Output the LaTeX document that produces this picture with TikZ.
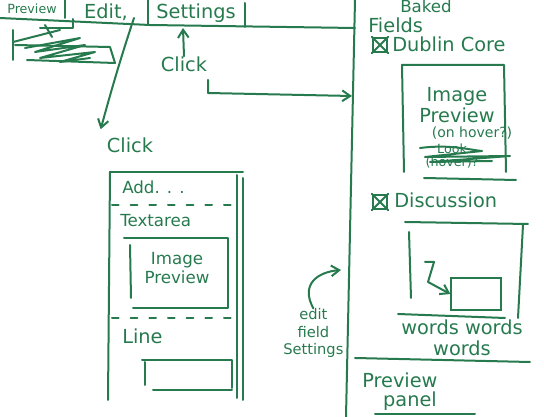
\documentclass[tikz,border=0pt]{standalone}
\usepackage{fontspec}
\setmainfont{DejaVu Sans}
\usetikzlibrary{arrows.meta}
\definecolor{pen}{RGB}{38,122,78}
\begin{document}
\begin{tikzpicture}[x=0.75pt,y=-0.75pt,
  ink/.style={draw=pen,line width=1.5pt,line cap=round,line join=round},
  arr/.style={ink,-{Straight Barb[length=6pt,width=8pt]}},
  lbl/.style={text=pen,font=\fontsize{14.5}{16}\selectfont,inner sep=0pt,align=center},
  mid/.style={text=pen,font=\fontsize{12.5}{14}\selectfont,inner sep=0pt,align=center},
  small/.style={text=pen,font=\fontsize{9.5}{10}\selectfont,inner sep=0pt,align=center},
  dashline/.style={ink,dash pattern=on 5pt off 9pt}]
\useasboundingbox (0,0) rectangle (544,417);
% tab bar
\draw[ink] (0,18) -- (150,25) -- (355,28);
\draw[ink] (65,0) -- (65,18);
\draw[ink] (148,0) -- (148,25);
\draw[ink] (245,3) -- (245,27);
\node[small] (tprev) at (32,9) {Preview};
\node[lbl] (tedit) at (106,12) {Edit,};
\node[lbl] (tset) at (196,13) {Settings};
% scribble
\draw[ink] (13,30) -- (13,60);
\draw[ink] (73,19) -- (73,28) -- (40,28);
\draw[ink] (13,42) -- (60,30);
\draw[ink] (45,25) -- (52,37);
\draw[ink] (15,45) -- (110,47) -- (115,63);
\draw[ink] (27,60) -- (115,63);
\draw[ink] (25,48) -- (80,38) -- (35,52) -- (85,45) -- (40,58) -- (95,52) -- (60,62) -- (90,58);
% vertical divider
\coordinate (vtop) at (355,0);
\coordinate (vbot) at (346,417);
\draw[ink] (vtop) -- (vbot);
% Edit click arrow
\coordinate (e0) at (134,18);
\node[lbl] (click1) at (130,145) {Click};
\draw[arr] (e0) .. controls (120,60) and (110,95) .. ([xshift=-22pt,yshift=6pt]click1.north);
% Settings click arrow
\node[lbl] (click2) at (184,64) {Click};
\draw[arr] (click2.north) -- (183,28);
\coordinate (c2a) at (208,80);
\coordinate (c2b) at (352,96);
\draw[arr] (c2a) -- (208,93) -- (c2b);
% left panel
\draw[ink] (110,172) -- (243,172);
\draw[ink] (110,172) -- (108,400);
\draw[ink] (237,175) -- (237,398);
\draw[ink] (243,178) -- (243,400);
\node[mid,anchor=west] (add) at (122,187) {Add. . .};
\draw[dashline] (112,205) -- (240,205);
\node[mid,anchor=west] (ta) at (120,221) {Textarea};
\draw[ink] (124,238) -- (228,238) -- (228,308) -- (133,308);
\draw[ink] (130,245) -- (131,298);
\node[mid] (ip1) at (177,268) {Image\\Preview};
\draw[dashline] (112,318) -- (240,318);
\node[lbl,anchor=west] (line) at (122,336) {Line};
\draw[ink] (142,360) -- (232,360) -- (232,388);
\draw[ink] (145,362) -- (145,385);
\draw[ink] (153,390) -- (232,390);
% edit field settings
\node[mid,anchor=west,font=\fontsize{11}{13}\selectfont] (efs) at (283,333) {edit\\field\\Settings};
\draw[arr] (efs.north) .. controls (300,284) and (318,272) .. (341,270);
% right panel
\node[mid,anchor=north west] (baked) at (400,0) {Baked};
\node[lbl,anchor=west] (fields) at (368,25) {Fields};
\node[draw=pen,line width=1.4pt,minimum size=11pt,inner sep=0pt] (cb1) at (380,45) {};
\draw[ink] (cb1.north west) -- (cb1.south east) (cb1.north east) -- (cb1.south west);
\node[lbl,anchor=west] (dc) at (392,44) {Dublin Core};
\draw[ink] (402,65) -- (504,65) -- (506,172);
\draw[ink] (402,65) -- (404,172);
\draw[ink] (424,178) -- (516,180);
\node[lbl] (ip2) at (457,105) {Image\\Preview};
\node[small,font=\fontsize{10.5}{12}\selectfont] (hover) at (472,133) {(on hover?)};
\node[small] (struck) at (452,156) {Look\\(hover)?};
\draw[ink] (420,148) .. controls (450,144) and (470,150) .. (482,151) -- (425,157) -- (510,156) -- (430,162) -- (492,161);
\node[draw=pen,line width=1.4pt,minimum size=11pt,inner sep=0pt] (cb2) at (380,202) {};
\draw[ink] (cb2.north west) -- (cb2.south east) (cb2.north east) -- (cb2.south west);
\node[lbl,anchor=west] (disc) at (394,200) {Discussion};
\draw[ink] (405,222) -- (528,224);
\draw[ink] (409,232) -- (411,298);
\draw[ink] (523,225) -- (518,318);
\draw[ink] (398,314) -- (505,318);
\node[draw=pen,line width=1.5pt,minimum width=37pt,minimum height=24pt,inner sep=0pt] (sbox) at (476,294) {};
\coordinate (za) at (425,262);
\draw[arr] (za) -- (434,262) -- (428,282) -- (sbox.west);
\node[lbl] (words) at (462,338) {words words\\words};
\draw[ink] (355,358) -- (530,362);
\node[lbl,anchor=west] (prev) at (362,380) {Preview};
\node[lbl] (panel) at (410,401) {panel};
\draw[ink] (375,414) -- (475,414);
\end{tikzpicture}
\end{document}
